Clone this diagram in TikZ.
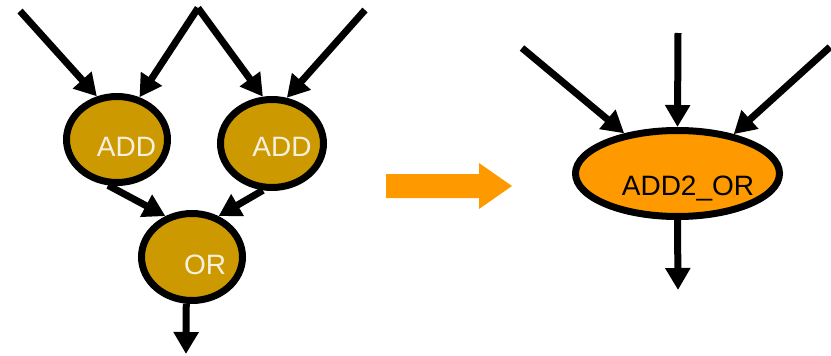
\documentclass[tikz,border=0pt]{standalone}
\usepackage{fontspec}
\setmainfont{Liberation Sans}
\usetikzlibrary{arrows.meta,shapes.geometric}
\definecolor{gold}{HTML}{CC9900}
\definecolor{orng}{HTML}{FF9900}
\definecolor{cream}{HTML}{F7F0DE}
\begin{document}
\begin{tikzpicture}[x=1pt,y=-1pt,
  op/.style={ellipse, draw=black, line width=7pt, fill=gold, inner sep=0pt},
  lbl/.style={anchor=base, inner sep=0pt, font=\fontsize{28}{31}\selectfont},
  wire/.style={line width=7pt, -{Triangle[length=22pt,width=24pt]}},
]
\useasboundingbox (0,0) rectangle (831,356);

% left graph
\node[op, minimum width=101pt, minimum height=86pt] (add1) at (117,139.5) {};
\node[op, minimum width=103pt, minimum height=88pt] (add2) at (272,143.5) {};
\node[op, minimum width=101pt, minimum height=87pt] (orn) at (192,257) {};
\node[lbl, text=cream] (t1) at ([shift={(9.5,16.5)}]add1.center) {ADD};
\node[lbl, text=cream] (t2) at ([shift={(10,12.5)}]add2.center) {ADD};
\node[lbl, text=cream] (t3) at ([shift={(13,17)}]orn.center) {OR};

\coordinate (i1) at (20,11);
\coordinate (i23) at (198,8);
\coordinate (i4) at (365,10);
\coordinate (o1) at (186,354);
\draw[wire] (i1) -- (add1.115);
\draw[wire] (i23) -- (add1.62);
\draw[wire] (i23) -- (add2.101);
\draw[wire] (i4) -- (add2.72);
\draw[wire] (add1.259) -- (orn.123);
\draw[wire] (add2.259) -- (orn.57);
\draw[wire] (orn.263) -- (o1);

% transformation arrow
\fill[orng] (386,174) -- (479,174) -- (479,163) -- (512,186) -- (479,209) -- (479,198) -- (386,198) -- cycle;

% right graph
\node[op, fill=orng, minimum width=204pt, minimum height=86pt] (comb) at (677.5,173.5) {};
\node[lbl, text=black] (t4) at ([shift={(10.5,21.5)}]comb.center) {ADD2\_OR};
\coordinate (ra) at (522,48);
\coordinate (rb) at (678,33);
\coordinate (rc) at (830,47);
\coordinate (ro) at (678,290);
\draw[wire] (ra) -- (comb.143);
\draw[wire] (rb) -- (comb.90);
\draw[wire] (rc) -- (comb.35);
\draw[wire] (comb.270) -- (ro);
\end{tikzpicture}
\end{document}
